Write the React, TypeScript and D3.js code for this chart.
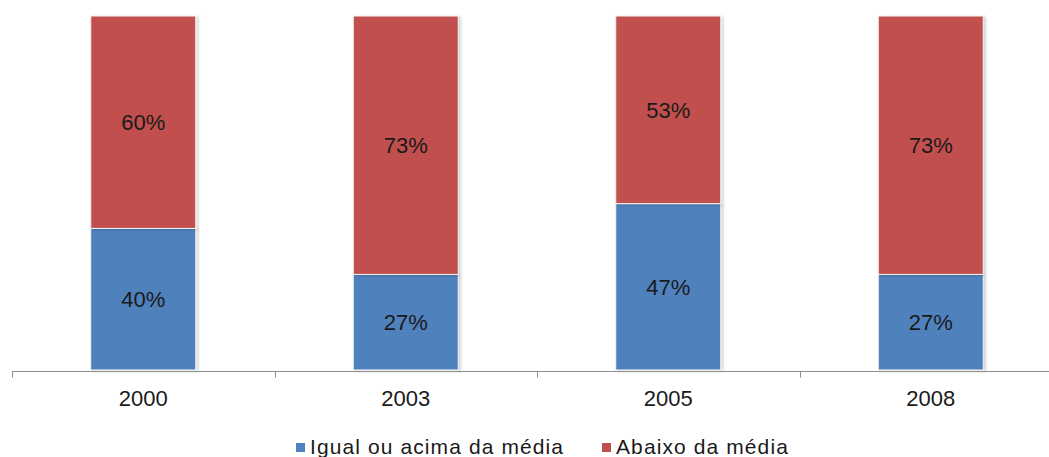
import React, { useEffect, useRef } from 'react';
import * as d3 from 'd3';

const years = ['2000', '2003', '2005', '2008'];
const igualOuAcima = [40, 27, 47, 27];
const abaixo = [60, 73, 53, 73];
const seriesNames = ['Igual ou acima da média', 'Abaixo da média'];
const seriesColors = ['#4F81BD', '#C0504D'];

const App: React.FC = () => {
  const svgRef = useRef<SVGSVGElement>(null);

  useEffect(() => {
    if (!svgRef.current) return;
    const width = 1049;
    const svg = d3.select(svgRef.current);
    svg.selectAll('*').remove();

    const font = '"Liberation Sans", Arial, sans-serif';

    const x = d3.scaleBand<string>().domain(years).range([12, 1062]).paddingInner(0.6).paddingOuter(0.3);
    const y = d3.scaleLinear().domain([0, 100]).range([370, 16]);

    const rows = years.map((yr, i) => ({ year: yr, a: igualOuAcima[i], b: abaixo[i] }));
    const stacked = d3.stack<any>().keys(['a', 'b'])(rows);

    const defs = svg.append('defs');
    const f = defs.append('filter').attr('id', 'shadow').attr('x', '-10%').attr('y', '-10%').attr('width', '130%').attr('height', '130%');
    f.append('feDropShadow').attr('dx', 2).attr('dy', 1).attr('stdDeviation', 1.5).attr('flood-color', '#000').attr('flood-opacity', 0.18);

    // bars + value labels
    stacked.forEach((layer, si) => {
      const g = svg.append('g');
      g.selectAll('rect')
        .data(layer)
        .enter()
        .append('rect')
        .attr('x', (d: any) => x(d.data.year)!)
        .attr('width', x.bandwidth())
        .attr('y', (d: any) => y(d[1]))
        .attr('height', (d: any) => y(d[0]) - y(d[1]))
        .attr('fill', seriesColors[si])
        .attr('stroke', '#f4f4f4')
        .attr('stroke-width', 1)
        .attr('filter', 'url(#shadow)');

      g.selectAll('text')
        .data(layer)
        .enter()
        .append('text')
        .attr('x', (d: any) => x(d.data.year)! + x.bandwidth() / 2)
        .attr('y', (d: any) => (y(d[0]) + y(d[1])) / 2)
        .attr('dy', '0.36em')
        .attr('text-anchor', 'middle')
        .attr('font-family', font)
        .attr('font-size', 22)
        .attr('fill', '#1a1a1a')
        .text((d: any) => `${d[1] - d[0]}%`);
    });

    // axis
    const axisY = 371.5;
    svg.append('line')
      .attr('x1', 12).attr('x2', width)
      .attr('y1', axisY).attr('y2', axisY)
      .attr('stroke', '#8c8c8c').attr('stroke-width', 1);
    const step = x.step();
    const ticks = d3.range(0, years.length + 1).map((i) => 12 + i * step);
    svg.selectAll('.tick')
      .data(ticks)
      .enter()
      .append('line')
      .attr('x1', (d) => Math.round(d) + 0.5).attr('x2', (d) => Math.round(d) + 0.5)
      .attr('y1', axisY).attr('y2', axisY + 6)
      .attr('stroke', '#8c8c8c');

    svg.selectAll('.xlabel')
      .data(years)
      .enter()
      .append('text')
      .attr('x', (d) => x(d)! + x.bandwidth() / 2)
      .attr('y', 398)
      .attr('dy', '0.36em')
      .attr('text-anchor', 'middle')
      .attr('font-family', font)
      .attr('font-size', 22)
      .attr('fill', '#1a1a1a')
      .text((d) => d);

    // legend
    const legendX = [296, 602];
    seriesNames.forEach((name, i) => {
      svg.append('rect')
        .attr('x', legendX[i]).attr('y', 443)
        .attr('width', 9).attr('height', 9)
        .attr('fill', seriesColors[i]);
      svg.append('text')
        .attr('x', legendX[i] + 14)
        .attr('y', 454)
        .attr('font-family', font)
        .attr('font-size', 21)
        .attr('letter-spacing', 1.1)
        .attr('fill', '#1a1a1a')
        .text(name);
    });
  }, []);

  return (
    <div style={{ position: 'absolute', left: 0, top: 0 }}>
      <svg ref={svgRef} width={1049} height={457} style={{ display: 'block', background: '#fff' }} />
    </div>
  );
};

export default App;
